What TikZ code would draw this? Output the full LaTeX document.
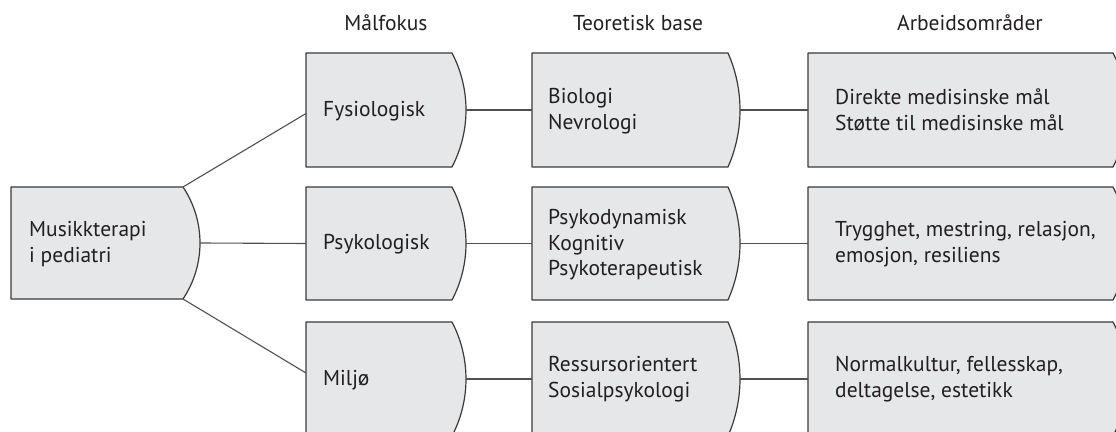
\documentclass[tikz,border=0pt]{standalone}
\usepackage{fontspec}
\setmainfont{PT Sans}
\definecolor{boxfill}{HTML}{E6E7E8}
\definecolor{boxline}{HTML}{3A3A3A}
\definecolor{conn}{HTML}{505050}
\definecolor{txtc}{HTML}{231F20}
\tikzset{
  boxstyle/.style={fill=boxfill, draw=boxline, line width=1.2pt, line join=round},
  connector/.style={draw=conn, line width=1.1pt},
  txt/.style={anchor=west, align=left, inner sep=0pt, text=txtc,
    font=\fontsize{21.5}{25.5}\selectfont},
  head/.style={anchor=base, inner sep=0pt, text=txtc,
    font=\fontsize{21.5}{25.5}\selectfont},
}
% #1 name, #2 left x, #3 right x (start of curve), #4 top y, #5 bottom y, #6 bulge
\newcommand\cboxshape[6]{%
  \pgfmathsetmacro\cbh{(#4-#5)/2}%
  \pgfmathsetmacro\cbR{(\cbh*\cbh+#6*#6)/(2*#6)}%
  \pgfmathsetmacro\cbt{asin(\cbh/\cbR)}%
  \draw[boxstyle] (#2,#4) -- (#3,#4) arc[start angle=\cbt, end angle=-\cbt, radius=\cbR pt] -- (#2,#5) -- cycle;
  \coordinate (#1-w) at (#2,{(#4+#5)/2});
  \coordinate (#1-e) at ({#3+#6},{(#4+#5)/2});
  \coordinate (#1-ne) at (#3,#4);
  \coordinate (#1-se) at (#3,#5);
}
\begin{document}
\begin{tikzpicture}[x=1pt,y=1pt]
\useasboundingbox (0,0) rectangle (1116,431);
\clip (0,0) rectangle (1116,431);

% headers
\node[head] (h1) at (386,400) {Målfokus};
\node[head] (h2) at (638,400) {Teoretisk base};
\node[head] (h3) at (970,400) {Arbeidsområder};

% box outlines
\cboxshape{m}{11}{183}{244}{132}{17}
\cboxshape{f}{306}{452}{378}{264}{14}
\cboxshape{p}{306}{452}{244}{131}{14}
\cboxshape{mi}{306}{452}{109}{-5}{14}
\cboxshape{b1}{532}{728}{378}{264}{12}
\cboxshape{b2}{532}{728}{244}{131}{12}
\cboxshape{b3}{532}{728}{109}{-5}{12}
\cboxshape{a1}{808}{1113}{378}{264}{14}
\cboxshape{a2}{808}{1113}{244}{131}{14}
\cboxshape{a3}{808}{1113}{109}{-5}{14}

% texts
\node[txt] (tm) at (29,187) {Musikkterapi\\i pediatri};
\node[txt] (tf) at (323,320) {Fysiologisk};
\node[txt] (tp) at (323,187) {Psykologisk};
\node[txt] (tmi) at (323,51) {Miljø};
\node[txt] (tb1) at (548,320) {Biologi\\Nevrologi};
\node[txt] (tb2) at (548,186) {Psykodynamisk\\Kognitiv\\Psykoterapeutisk};
\node[txt] (tb3) at (548,52) {Ressursorientert\\Sosialpsykologi};
\node[txt] (ta1) at (835,321) {Direkte medisinske mål\\Støtte til medisinske mål};
\node[txt] (ta2) at (835,187) {Trygghet, mestring, relasjon,\\emosjon, resiliens};
\node[txt] (ta3) at (835,52) {Normalkultur, fellesskap,\\deltagelse, estetikk};

% connectors
\draw[connector] (m-ne) -- ([yshift=-3.5pt]f-w);
\draw[connector] (m-e) -- (p-w);
\draw[connector] (m-se) -- ([yshift=6pt]mi-w);
\draw[connector] (f-e) -- (b1-w);
\draw[connector] (p-e) -- (b2-w);
\draw[connector] (mi-e) -- (b3-w);
\draw[connector] (b1-e) -- (a1-w);
\draw[connector] (b2-e) -- (a2-w);
\draw[connector] (b3-e) -- (a3-w);
\end{tikzpicture}
\end{document}
